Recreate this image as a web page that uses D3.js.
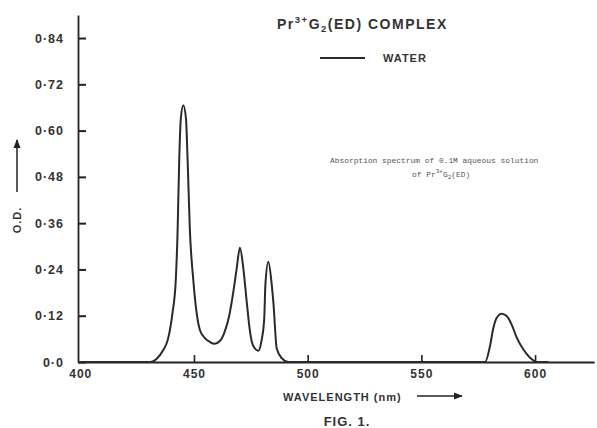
<!DOCTYPE html>
<meta charset="utf-8">
<title>Pr3+ G2(ED) complex absorption spectrum</title>
<script src="https://d3js.org/d3.v7.min.js"></script>
<style>
  body { margin: 0; background: #fff; }
  svg { display: block; }
  .lbl { font-family: "Liberation Sans", Arial, sans-serif; font-weight: bold; fill: #333; letter-spacing: 1px; }
  .note { font-family: "Liberation Mono", "DejaVu Sans Mono", monospace; fill: #555; font-size: 7.9px; }
</style>
<body>
  <svg width="597" height="428"></svg>
  <script>

    // Spectrum (wavelength in nm, optical density)
    var wavelength = [400, 431, 433.5, 436.5, 438.5, 440.5, 442, 442.8, 443.5, 444.2, 445.3, 446.5, 447.2, 448.2, 449.7, 451, 452.6, 454.8, 457, 459,
                      461.5, 463.6, 465.5, 467.3, 468.8, 470.2, 471.7, 473.2, 474.5, 475.4, 476.8, 478.3, 479.7, 480.9, 481.4, 482.7, 484.2, 484.9,
                      486.4, 488.6, 491.5, 578, 580.2, 581.6, 583.1, 585.3, 587.5, 589.7, 591.9, 594.8, 597.8, 600.7, 606];
    var od = [0, 0, 0.008, 0.031, 0.058, 0.125, 0.213, 0.34, 0.52, 0.63, 0.666, 0.63, 0.524, 0.342, 0.213, 0.135, 0.083, 0.062, 0.052, 0.047,
              0.055, 0.08, 0.12, 0.182, 0.243, 0.296, 0.243, 0.156, 0.085, 0.053, 0.035, 0.029, 0.055, 0.113, 0.2, 0.26, 0.2, 0.156,
              0.035, 0.01, 0, 0, 0.042, 0.087, 0.114, 0.125, 0.119, 0.097, 0.064, 0.033, 0.011, 0, 0];

    // Axis ticks
    var yTicks = [0, 0.12, 0.24, 0.36, 0.48, 0.60, 0.72, 0.84];
    var yTickLabels = ["0·0", "0·12", "0·24", "0·36", "0·48", "0·60", "0·72", "0·84"];
    var xTicks = [400, 450, 500, 550, 600];

    var svg = d3.select("svg");

    var x = d3.scaleLinear()
        .domain([399, 626])
        .range([78, 594.2]);

    var y = d3.scaleLinear()
        .domain([0, 0.9])
        .range([362, 14.9]);

    var data = wavelength.map(function(w, i) { return {w: w, v: od[i]}; });

    // Arrow marker
    svg.append("defs").append("marker")
        .attr("id", "arrow")
        .attr("viewBox", "0 0 10 10")
        .attr("refX", 9).attr("refY", 5)
        .attr("markerWidth", 9).attr("markerHeight", 9)
        .attr("markerUnits", "userSpaceOnUse")
        .attr("orient", "auto")
      .append("path")
        .attr("d", "M0,1 L10,5 L0,9 Z")
        .attr("fill", "#222");

    // Y axis, ticks pointing inward
    var yAxis = d3.axisLeft(y)
        .tickValues(yTicks)
        .tickSizeInner(-8)
        .tickSizeOuter(0)
        .tickPadding(14)
        .tickFormat(function(d, i) { return yTickLabels[i]; });

    var gy = svg.append("g").attr("transform", "translate(78,0)").call(yAxis);
    gy.select(".domain").attr("stroke", "#222").attr("stroke-width", 1.8);
    gy.selectAll(".tick line").attr("stroke", "#222").attr("stroke-width", 2);
    gy.selectAll("text").attr("class", "lbl").style("font-size", "12.5px").attr("fill", "#333");

    // X axis, ticks pointing inward
    var xAxis = d3.axisBottom(x)
        .tickValues(xTicks)
        .tickSizeInner(-7)
        .tickSizeOuter(0)
        .tickPadding(7);

    var gx = svg.append("g").attr("transform", "translate(0," + y(0) + ")").call(xAxis);
    gx.select(".domain").attr("stroke", "#222").attr("stroke-width", 1.8);
    gx.selectAll(".tick line").attr("stroke", "#222").attr("stroke-width", 1.6)
        .filter(function(d) { return d === 400; }).remove();
    gx.selectAll("text").attr("class", "lbl").style("font-size", "12px").attr("fill", "#333");

    // Spectrum curve
    var line = d3.line()
        .x(function(d) { return x(d.w); })
        .y(function(d) { return y(d.v); })
        .curve(d3.curveMonotoneX);

    svg.append("path")
        .datum(data)
        .attr("d", line)
        .attr("fill", "none")
        .attr("stroke", "#2a2a2a")
        .attr("stroke-width", 2)
        .attr("stroke-linejoin", "round");

    // Title
    var title = svg.append("text").attr("class", "lbl").attr("x", 277).attr("y", 29)
        .style("font-size", "14px").style("letter-spacing", "1.5px");
    title.append("tspan").text("Pr");
    title.append("tspan").attr("dy", -6).style("font-size", "9.5px").text("3+");
    title.append("tspan").attr("dy", 6).text("G");
    title.append("tspan").attr("dy", 3).style("font-size", "9.5px").text("2");
    title.append("tspan").attr("dy", -3).text("(ED)  COMPLEX");

    // Legend
    svg.append("line")
        .attr("x1", 320).attr("x2", 365).attr("y1", 58).attr("y2", 58)
        .attr("stroke", "#2a2a2a").attr("stroke-width", 2);
    svg.append("text").attr("class", "lbl").attr("x", 383).attr("y", 62)
        .style("font-size", "11px").text("WATER");

    // Caption note
    svg.append("text").attr("class", "note").attr("x", 330).attr("y", 163)
        .text("Absorption spectrum of 0.1M aqueous solution");
    var note2 = svg.append("text").attr("class", "note").attr("x", 412).attr("y", 177);
    note2.append("tspan").text("of Pr");
    note2.append("tspan").attr("dy", -4).style("font-size", "6px").text("3+");
    note2.append("tspan").attr("dy", 4).text("G");
    note2.append("tspan").attr("dy", 2).style("font-size", "6px").text("2");
    note2.append("tspan").attr("dy", -2).text("(ED)");

    // Y axis title with arrow
    svg.append("text").attr("class", "lbl")
        .attr("transform", "translate(21,220) rotate(-90)")
        .attr("text-anchor", "middle")
        .style("font-size", "11px")
        .text("O.D.");
    svg.append("line")
        .attr("x1", 17).attr("x2", 17).attr("y1", 192).attr("y2", 140)
        .attr("stroke", "#222").attr("stroke-width", 1.5)
        .attr("marker-end", "url(#arrow)");

    // X axis title with arrow
    svg.append("text").attr("class", "lbl")
        .attr("x", 283).attr("y", 401)
        .style("font-size", "11px")
        .text("WAVELENGTH (nm)");
    svg.append("line")
        .attr("x1", 417).attr("x2", 462).attr("y1", 396).attr("y2", 396)
        .attr("stroke", "#222").attr("stroke-width", 1.5)
        .attr("marker-end", "url(#arrow)");

    // Figure label
    svg.append("text").attr("class", "lbl")
        .attr("x", 347).attr("y", 426)
        .attr("text-anchor", "middle")
        .style("font-size", "13px")
        .text("FIG. 1.");

  </script>
</body>
